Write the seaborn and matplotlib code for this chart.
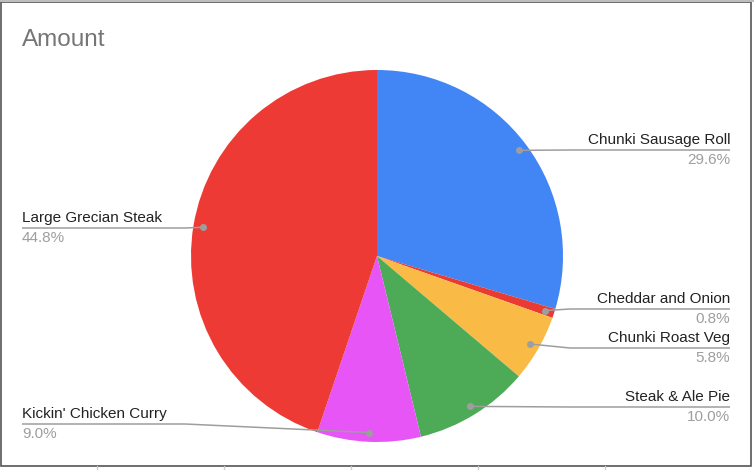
import numpy as np
import seaborn as sns
import matplotlib
matplotlib.use("Agg")
import matplotlib.pyplot as plt
from matplotlib.patches import Rectangle

# data
items = ["Chunki Sausage Roll", "Cheddar and Onion", "Chunki Roast Veg",
         "Steak & Ale Pie", "Kickin' Chicken Curry", "Large Grecian Steak"]
shares = [29.6, 0.8, 5.8, 10.0, 9.0, 44.8]
colors = ["#4285F4", "#EA3B33", "#F9BB45", "#4DAA57", "#E855F7", "#EE3A34"]

# label layout (pixels, y from top): side, line y
label_side = ["right", "right", "right", "right", "left", "left"]
label_line_y = [150, 309, 348, 407, 424, 228]

sns.set_theme(style="white")
plt.rcParams["font.family"] = ["Liberation Sans", "DejaVu Sans"]

W, H = 754, 470
fig = plt.figure(figsize=(W / 100, H / 100), dpi=100)
ax = fig.add_axes([0, 0, 1, 1])

cx, cy, R = 377, H - 256, 186
wedges, _ = ax.pie(shares, colors=colors, startangle=90, counterclock=False,
                   center=(cx, cy), radius=R, frame=True,
                   wedgeprops=dict(linewidth=0))
ax.set_xlim(0, W)
ax.set_ylim(0, H)
ax.set_aspect("equal")
ax.axis("off")

# frame like the screenshot
fig.patches.append(Rectangle((1 / W, 4 / H), 750 / W, 464 / H, transform=fig.transFigure,
                             fill=False, edgecolor="#555555", linewidth=1.2))
fig.patches.append(Rectangle((0, (H - 2) / H), 1, 2 / H, transform=fig.transFigure,
                             facecolor="#bdbdbd", edgecolor="none"))
for tx in [97, 224, 351, 478, 605]:
    fig.lines.append(plt.Line2D([tx / W, tx / W], [0, 4 / H], transform=fig.transFigure,
                                color="#cccccc", linewidth=1))

ax.text(22, H - 40, "Amount", fontsize=17.5, color="#757575", va="center", ha="left")

for w, name, pct, side, ly in zip(wedges, items, shares, label_side, label_line_y):
    mid = np.deg2rad((w.theta1 + w.theta2) / 2)
    dx, dy = cx + 0.95 * R * np.cos(mid), cy + 0.95 * R * np.sin(mid)
    y = H - ly
    if side == "right":
        tx, ex, ha = 730, 570, "right"
    else:
        tx, ex, ha = 22, 185, "left"
    ax.plot([tx, ex, dx], [y, y, dy], color="#9e9e9e", linewidth=1.1,
            solid_capstyle="butt", zorder=3)
    ax.plot(dx, dy, "o", color="#9e9e9e", markersize=4, zorder=4)
    ax.text(tx, y + 3, name, fontsize=11, color="#222222", ha=ha, va="bottom")
    ax.text(tx, y - 3, f"{pct:.1f}%", fontsize=11, color="#9e9e9e", ha=ha, va="top")

fig.savefig("out.png", dpi=100, facecolor="white")
